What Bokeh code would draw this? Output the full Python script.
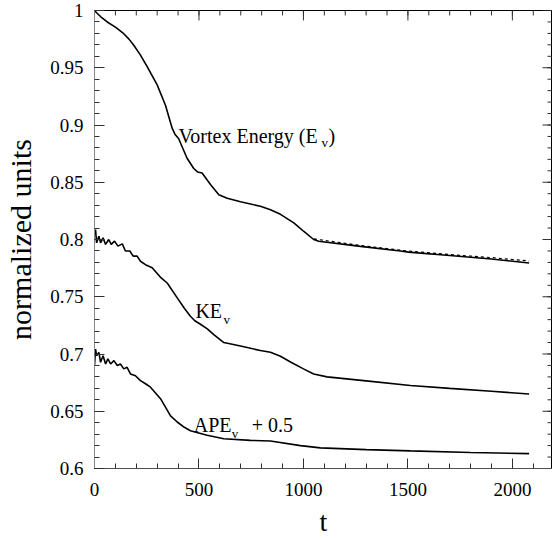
from bokeh.plotting import figure
from bokeh.models import (LinearAxis, FixedTicker, NumeralTickFormatter, Range1d, Label)
from bokeh.embed import file_html
from bokeh.resources import INLINE

# ---------------- data ----------------
ev_t = [0, 10, 30, 61, 100, 140, 165, 188, 220, 252, 300, 340, 372, 385, 403, 443, 475, 493, 515,
        555, 595, 635, 699, 794, 842, 890, 954, 1002, 1049, 1073, 1273, 1464, 1504, 1700, 1900, 2080]
ev_v = [1.0, 0.998, 0.9945, 0.990, 0.9855, 0.9797, 0.975, 0.9696, 0.961, 0.951, 0.935, 0.917, 0.897,
        0.892, 0.888, 0.871, 0.862, 0.859, 0.858, 0.848, 0.839, 0.836, 0.833, 0.829, 0.826, 0.822,
        0.8145, 0.807, 0.800, 0.7985, 0.794, 0.790, 0.789, 0.786, 0.783, 0.7795]

evd_t = [1050, 1273, 1504, 1700, 1900, 2080]
evd_v = [0.8005, 0.7948, 0.7898, 0.7868, 0.7842, 0.7812]

ke_t = [0, 5, 10, 21, 29, 41, 53, 68, 80, 96, 112, 133, 148, 169, 185, 204, 220, 244, 276, 316,
        348, 396, 430, 459, 480, 507, 540, 571, 619, 699, 794, 842, 890, 938, 1000, 1049, 1113,
        1300, 1512, 1700, 1900, 2080]
ke_v = [0.8043, 0.8087, 0.7971, 0.8029, 0.7971, 0.8014, 0.7957, 0.8000, 0.7957, 0.7986, 0.7942,
        0.7962, 0.7900, 0.7900, 0.7855, 0.7855, 0.7810, 0.7780, 0.7754, 0.7670, 0.7620, 0.7490,
        0.7400, 0.7330, 0.7290, 0.7260, 0.7220, 0.7170, 0.7100, 0.7070, 0.7030, 0.7015, 0.6980,
        0.6930, 0.6870, 0.6826, 0.6800, 0.6765, 0.6725, 0.6700, 0.6675, 0.6650]

ape_t = [0, 5, 10, 21, 29, 41, 53, 64, 77, 93, 109, 124, 140, 156, 172, 196, 220, 244, 268, 316,
         364, 396, 430, 459, 539, 619, 746, 842, 986, 1081, 1300, 1512, 1800, 2080]
ape_v = [0.690, 0.7043, 0.6985, 0.7014, 0.6928, 0.6985, 0.6913, 0.6957, 0.6913, 0.6942, 0.6900,
         0.6913, 0.6870, 0.6884, 0.6826, 0.6810, 0.6768, 0.6740, 0.6710, 0.6610, 0.6460, 0.6406,
         0.6360, 0.6330, 0.6290, 0.6260, 0.6246, 0.6240, 0.6200, 0.6180, 0.6165, 0.6154, 0.6140,
         0.6130]

x_ticks = [0, 500, 1000, 1500, 2000]
x_minor = [v for v in range(0, 2200, 100)]
y_ticks = [0.6, 0.65, 0.7, 0.75, 0.8, 0.85, 0.9, 0.95, 1.0]
y_minor = [round(0.6 + 0.01 * i, 2) for i in range(41)]

FONT = "Liberation Serif"
X0, X1, Y0, Y1 = 0, 2192, 0.6, 1.0
FW, FH = 458, 460  # frame size in px

p = figure(width=552, height=539, output_backend="svg", toolbar_location=None,
           x_range=Range1d(X0, X1), y_range=Range1d(Y0, Y1),
           x_axis_location=None, y_axis_location=None,
           min_border_left=94, min_border_top=10, min_border_right=0, min_border_bottom=69)
p.grid.visible = False
p.outline_line_color = "black"
p.outline_line_width = 1
p.background_fill_color = "white"
p.border_fill_color = "white"


def style(ax):
    ax.major_tick_in = 10
    ax.major_tick_out = 0
    ax.minor_tick_in = 5
    ax.minor_tick_out = 0
    ax.major_tick_line_color = "#303030"
    ax.minor_tick_line_color = "#303030"
    ax.axis_line_color = "#505050"
    ax.major_label_text_font = FONT
    ax.major_label_text_color = "black"
    ax.axis_label_text_font = FONT
    ax.axis_label_text_font_style = "normal"
    ax.axis_label_text_color = "black"


xt = FixedTicker(ticks=x_ticks, minor_ticks=x_minor)
yt = FixedTicker(ticks=y_ticks, minor_ticks=y_minor)

bottom = LinearAxis(ticker=xt, axis_label="t")
style(bottom)
bottom.major_label_text_font_size = "19px"
bottom.major_label_standoff = 14
bottom.axis_label_text_font_size = "28px"
bottom.axis_label_standoff = 7
p.add_layout(bottom, "below")

left = LinearAxis(ticker=yt, axis_label="normalized units", formatter=NumeralTickFormatter(format="0.[00]"))
style(left)
left.axis_line_color = "#888888"
left.major_label_text_font_size = "19px"
left.major_label_standoff = 11
left.axis_label_text_font_size = "30px"
left.axis_label_standoff = 10
p.add_layout(left, "left")

# inward ticks on the top and right sides, from the same tick lists
dy_maj = (Y1 - Y0) * 10 / FH
dy_min = (Y1 - Y0) * 5 / FH
dx_maj = (X1 - X0) * 10 / FW
dx_min = (X1 - X0) * 5 / FW
p.segment(x0=x_minor, y0=[Y1] * len(x_minor), x1=x_minor, y1=[Y1 - dy_min] * len(x_minor),
          line_color="#303030", line_width=1)
p.segment(x0=x_ticks, y0=[Y1] * len(x_ticks), x1=x_ticks, y1=[Y1 - dy_maj] * len(x_ticks),
          line_color="#303030", line_width=1)
p.segment(x0=[X1] * len(y_minor), y0=y_minor, x1=[X1 - dx_min] * len(y_minor), y1=y_minor,
          line_color="#303030", line_width=1)
p.segment(x0=[X1] * len(y_ticks), y0=y_ticks, x1=[X1 - dx_maj] * len(y_ticks), y1=y_ticks,
          line_color="#303030", line_width=1)

p.line(ev_t, ev_v, line_color="black", line_width=1.6)
p.line(evd_t, evd_v, line_color="black", line_width=1.2, line_dash="3 3")
p.line(ke_t, ke_v, line_color="black", line_width=1.6)
p.line(ape_t, ape_v, line_color="black", line_width=1.6)

LS = "20px"
SS = "13px"


def lab(x, y, text, size=LS, xo=0, yo=0):
    p.add_layout(Label(x=x, y=y, text=text, x_offset=xo, y_offset=yo, text_font=FONT,
                       text_font_size=size, text_color="black", text_baseline="alphabetic"))


# Vortex energy label
lab(402, 0.8904, "Vortex Energy (E")
lab(402, 0.8904, "v", SS, xo=143, yo=-7)
lab(402, 0.8904, ")", xo=150)
# KE label
lab(483, 0.7374, "KE")
lab(483, 0.7374, "v", SS, xo=28, yo=-8)
# APE label
lab(475, 0.6377, "APE")
lab(475, 0.6377, "v", SS, xo=38, yo=-8)
lab(475, 0.6377, "+ 0.5", xo=58)

open("out.html", "w").write(file_html(p, INLINE))
